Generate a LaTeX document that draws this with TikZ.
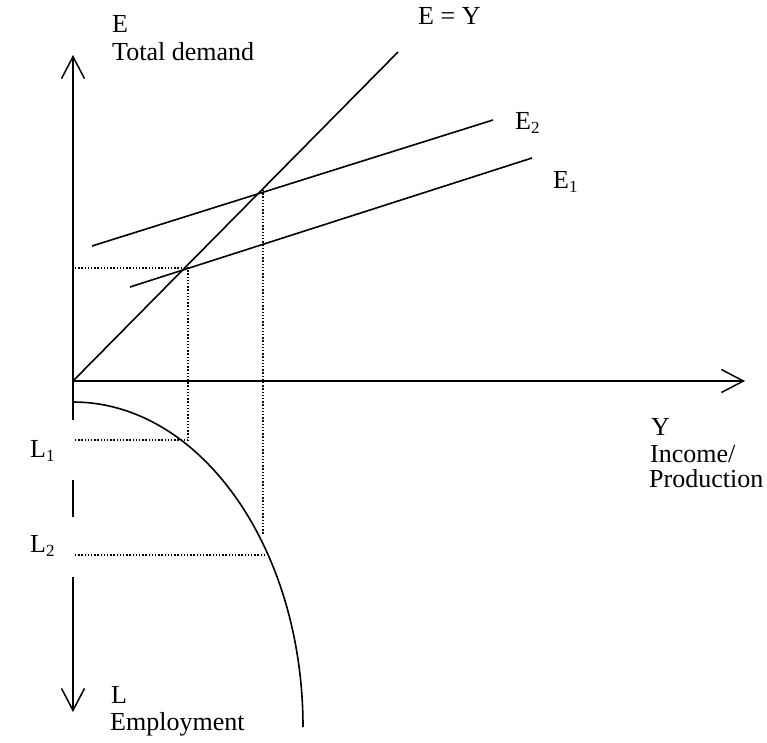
\documentclass[tikz,border=0pt]{standalone}
\usepackage{fontspec}
\setmainfont{Liberation Serif}
\usetikzlibrary{arrows.meta}
\newcommand\lsub[1]{\raisebox{-4pt}{\fontsize{17}{17}\selectfont #1}}
\begin{document}
\begin{tikzpicture}[x=1pt,y=-1pt,
  axisline/.style={line width=1.5pt},
  axis/.style={axisline,-{Straight Barb[length=22pt,width=23pt]}},
  curve/.style={line width=1.6pt},
  guide/.style={line width=1.3pt,dash pattern=on 1.3pt off 1.9pt},
  lbl/.style={anchor=base west,inner sep=0pt,font=\fontsize{26}{28}\selectfont}]
\useasboundingbox (0,0) rectangle (767,742);
% key points
\coordinate (O) at (73,381);
\coordinate (Etop) at (73,55);
\coordinate (Yend) at (745,381);
\coordinate (Lend) at (73,712);
\coordinate (A) at (188,268);
\coordinate (B) at (263,190);
\coordinate (EYend) at (398,52);
\coordinate (E2s) at (92,246);
\coordinate (E2e) at (493,120);
\coordinate (E1s) at (130,287);
\coordinate (E1e) at (532,158);
% axes
\draw[axis] (O) -- (Etop);
\draw[axis] (O) -- (Yend);
\draw[axisline] (O) -- (73,420);
\draw[axisline] (73,480) -- (73,517);
\draw[axis] (73,577) -- (Lend);
% lines
\draw[curve] (O) -- (EYend);
\draw[curve] (E2s) -- (E2e);
\draw[curve] (E1s) -- (E1e);
% production curve
\draw[curve] (73,402) arc[start angle=-90,end angle=0,x radius=230,y radius=325];
% guides
\draw[guide] (75,268) -- (A) -- (188,440);
\draw[guide] (75,440) -- (188,440);
\draw[guide] (B) -- (263,534);
\draw[guide] (75,555) -- (266,555);
% labels
\node[lbl] (labE) at (112,32) {E};
\node[lbl] (labTD) at (112,60) {Total demand};
\node[lbl] (labEY) at (418,24) {E = Y};
\node[lbl] (labE2) at (515,129) {E\lsub{2}};
\node[lbl] (labE1) at (553,188) {E\lsub{1}};
\node[lbl] (labY) at (651,435) {Y};
\node[lbl] (labInc) at (650,462) {Income/};
\node[lbl] (labProd) at (649,487) {Production};
\node[lbl] (labL1) at (30,457) {L\lsub{1}};
\node[lbl] (labL2) at (30,552) {L\lsub{2}};
\node[lbl] (labL) at (111,703) {L};
\node[lbl] (labEmp) at (110,730) {Employment};
\end{tikzpicture}
\end{document}
